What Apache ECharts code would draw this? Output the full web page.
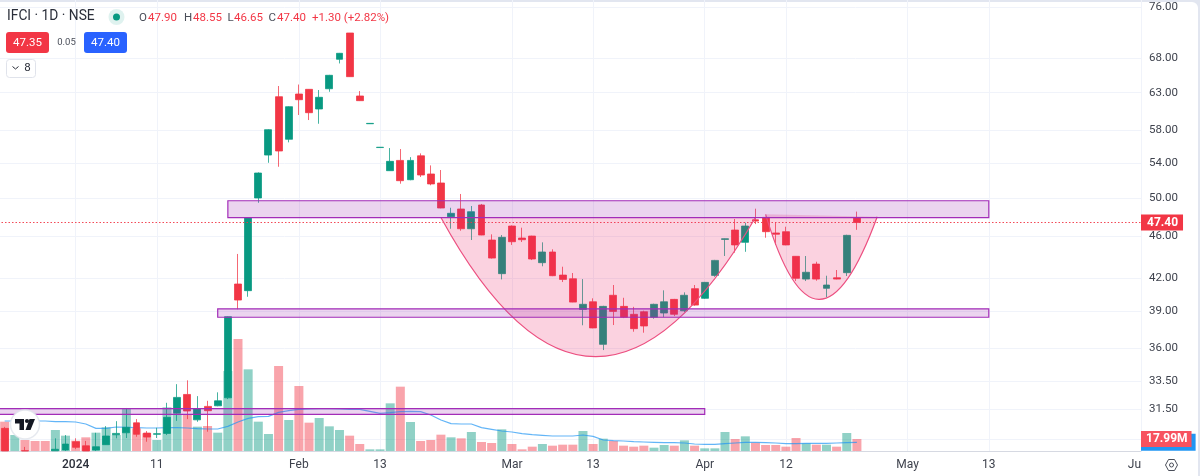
<!DOCTYPE html>
<html>
<head>
<meta charset="utf-8">
<style>
html,body{margin:0;padding:0;width:1200px;height:476px;overflow:hidden;background:#e2e6f0}
#paper{position:absolute;left:0;top:2px;width:1198px;height:474px;background:#fff;border-top-right-radius:6px}
#chart{position:absolute;left:0;top:0;width:1200px;height:476px}
</style>
<script src="https://cdn.jsdelivr.net/npm/echarts@6/dist/echarts.min.js"></script>
</head>
<body>
<div id="paper"></div>
<div id="chart"></div>
<script>
// Session slots: the first candle below sits in slot index 1; the axis has 114 slots.
const slotCount = 114;
const firstCandleSlot = 1;
const timeLabels = {8:'2024',16:'11',30:'Feb',38:'13',51:'Mar',59:'13',70:'Apr',78:'12',90:'May',98:'13',113:'Ju'};
const priceTicks = [76,68,63,58,54,50,46,42,39,36,33.5,31.5,29.5];

const opens = [30.2,null,28.76,null,null,28.75,28.8,29.33,29.07,28.8,
 29.14,29.78,29.91,30.57,29.89,29.81,29.87,31.21,32.53,30.77,
 31.69,31.73,32.29,41.43,40.83,50.02,54.95,62.44,56.88,62.81,
 63.46,60.78,63.54,67.77,71.79,62.54,58.85,55.86,53.1,54.31,
 52.06,54.86,52.72,51.69,48.01,48.83,46.76,49.26,45.62,42.38,
 47.04,45.82,46.02,43.41,44.44,42.25,41.91,39.19,39.85,36.3,
 40.42,39.45,38.77,38.99,38.52,38.88,40.06,39.07,41.01,40.15,
 42.22,45.68,46.63,45.39,47.69,47.94,46.33,46.46,44.02,41.88,
 43.28,41.04,42.0,42.47,47.9];
const closes = [28.74,null,28.74,null,null,28.85,29.18,28.97,28.74,29.01,
 29.7,29.87,30.27,29.81,29.63,29.85,30.94,32.32,31.37,31.53,
 31.39,32.08,38.57,40.0,47.87,52.83,58.09,55.44,61.09,62.03,
 60.29,62.36,65.44,68.67,65.24,61.9,58.9,55.9,54.2,51.95,
 54.31,52.6,51.58,48.93,48.37,46.76,48.54,46.12,43.85,45.89,
 45.45,45.65,43.76,44.44,42.19,41.85,39.82,39.63,37.63,39.45,
 39.02,38.52,37.57,37.79,39.63,39.85,38.77,40.42,39.56,41.58,
 43.63,45.75,45.13,47.04,47.55,46.46,46.2,45.13,41.95,42.51,
 41.88,41.34,41.88,46.09,47.4];
const lows = [28.74,null,28.74,null,null,28.74,28.74,28.86,28.74,28.74,
 29.12,29.55,29.57,29.65,29.33,29.57,29.76,30.7,30.82,30.64,
 29.98,31.7,32.2,39.2,40.29,49.5,54.03,53.56,56.5,59.99,
 59.33,58.85,63.12,67.16,65.2,61.85,58.85,55.86,53.08,51.61,
 52.0,52.37,51.43,48.9,46.76,46.56,45.62,46.1,43.8,41.85,
 45.13,45.42,43.66,43.07,42.15,41.61,39.8,37.85,37.6,35.85,
 37.87,38.45,37.32,37.24,38.4,38.52,38.62,38.96,39.5,40.1,
 42.09,44.05,44.37,44.46,47.24,45.85,45.13,45.1,41.7,41.7,
 41.73,40.24,41.85,42.16,46.65];
const highs = [30.3,null,29.0,null,null,29.55,29.76,29.55,29.38,29.91,
 30.35,30.68,31.58,30.82,30.02,30.24,31.94,33.27,33.55,32.41,
 32.08,32.68,38.6,44.25,47.9,52.9,58.15,63.92,61.15,64.13,
 63.5,63.36,65.5,68.72,71.8,63.22,58.92,55.92,55.8,55.68,
 54.7,55.15,53.72,53.18,48.96,50.46,49.15,49.37,46.19,46.12,
 47.1,46.87,46.05,45.39,44.7,43.03,42.44,41.88,40.15,39.5,
 41.34,40.2,39.41,39.08,39.68,40.86,40.1,40.68,41.34,41.62,
 43.68,45.78,47.77,47.39,48.86,48.0,47.42,46.97,44.05,44.05,
 43.5,42.19,42.72,46.15,48.55];
// Volume in millions of shares, same slots as the candles
const volumes = [44,24,16.5,15,15,31.5,23,15.5,20.5,27.5,
 35.5,24,64,34,26.5,16.5,65.5,54,54,36.5,
 37.5,27.5,120,168,122.5,44,25.5,127.5,46.5,97.5,
 42.5,49.5,37,31.5,23,10.5,2.5,2.5,71.5,96.5,
 43.5,15,16.5,24.5,20.5,19,28.5,13.5,12,32.5,
 10.5,2.5,6.5,10.5,8,9.5,9.5,30,10.5,18.5,
 15,8,6.5,8,5,9,8,16,8,4,
 4,28.5,18,22,12.5,9,9,6.5,19.5,11.5,
 9.5,9.5,6.5,27,17.99];
// Bars whose colour differs from what the visible candle shows (hidden candles)
const volumeUpOverride = {1:true,3:false,4:false};
const volumeMA = [45,45,45,45,45,44,44,43.5,40.5,34,
 34,36,35.5,35,34.5,34.5,35,35,34.5,33.5,
 33,33,37,43.5,49,51.5,52,58,60.5,62.5,
 63,63.5,63.5,63,62.5,62.5,59.5,56.5,57.5,59,
 59.5,59,54,46.5,41,40.5,40.5,35,32.5,30,
 28.5,26,24.5,23.5,22.5,22.5,22.5,24,22,16.5,
 15.5,15,14,13.5,13,12.5,12.5,12,10.5,10,
 10,11,12,13,13,12.5,12,11,11,11.5,
 11.5,11.5,12,12.5,13];

// Drawn zones: slots and prices
const zones = [
 {from:23,to:98,top:49.72,bottom:47.92},
 {from:22,to:98,top:39.24,bottom:38.52},
 {from:0,to:70,top:31.53,bottom:31.14}
];
// Drawn arcs: start, control and end anchors
const arcs = [
 {startSlot:44,startPrice:47.92,ctrlSlot:59,ctrlPrice:26.05,endSlot:75,endPrice:47.92},
 {startSlot:76,startPrice:48.26,ctrlSlot:81,ctrlPrice:33.34,endSlot:87,endPrice:48.0}
];
const lastPrice = 47.40, lastVolume = 17.99, lastVolumeMA = 13;

const FONT = 'Roboto, sans-serif';
const categories = Array.from({length:slotCount},(_,i)=>timeLabels[i]||String(i));
const pad = v => { const a = new Array(firstCandleSlot).fill(null); return a.concat(v); };
const candleData = pad(opens.map((o,i)=> o==null ? '-' : [o,closes[i],lows[i],highs[i]])).map(v=>v==null?'-':v);
const volData = pad(volumes.map((v,i)=>{
  const up = (i in volumeUpOverride) ? volumeUpOverride[i] : closes[i]>=opens[i];
  return {value:v,itemStyle:{color:up?'rgba(8,153,129,0.45)':'rgba(242,54,69,0.45)'}};
})).map(v=>v==null?'-':v);
const maData = pad(volumeMA);
const tickShown = i => !!timeLabels[i];

const chart = echarts.init(document.getElementById('chart'),null,{renderer:'canvas'});

function txt(x,y,text,fill,size,align,weight){
  return {type:'text',silent:true,z:50,style:{x,y,text,fill,font:(weight||'normal')+' '+size+'px '+FONT,textAlign:align||'left',textVerticalAlign:'middle'}};
}
const RED='#f23645';
const graphics = [
  txt(7,17,'IFCI · 1D · NSE','#2a2e39',13.8),
  {type:'circle',silent:true,z:50,shape:{cx:116.5,cy:17,r:8},style:{fill:'rgba(8,153,129,0.13)'}},
  {type:'circle',silent:true,z:51,shape:{cx:116.5,cy:17,r:3.5},style:{fill:'#089981'}},
  txt(139,18,'O','#4a4e59',11.5), txt(148,18,'47.90',RED,11.5),
  txt(184,18,'H','#4a4e59',11.5), txt(193,18,'48.55',RED,11.5),
  txt(227.5,18,'L','#4a4e59',11.5), txt(234,18,'46.65',RED,11.5),
  txt(268.5,18,'C','#4a4e59',11.5), txt(277,18,'47.40',RED,11.5),
  txt(312,18,'+1.30 (+2.82%)',RED,11.5),
  {type:'rect',silent:true,z:50,shape:{x:6,y:32,width:43,height:21,r:3},style:{fill:RED}},
  txt(27.5,43,'47.35','#fff',11.5,'center'),
  txt(66.5,42.5,'0.05','#4a4e59',9.5,'center'),
  {type:'rect',silent:true,z:50,shape:{x:84,y:32,width:43,height:21,r:3},style:{fill:'#2962ff'}},
  txt(105.5,43,'47.40','#fff',11.5,'center'),
  {type:'rect',silent:true,z:50,shape:{x:6.5,y:59.5,width:29,height:18,r:3},style:{fill:'#fff',stroke:'#e0e3eb',lineWidth:1}},
  {type:'polyline',silent:true,z:51,shape:{points:[[12.5,66.5],[15.5,69],[18.5,66.5]]},style:{stroke:'#2a2e39',lineWidth:1,fill:null}},
  txt(27.5,68.5,'8','#2a2e39',11.5,'center'),
  // TradingView badge
  {type:'circle',silent:true,z:50,shape:{cx:25,cy:424.5,r:14.5},style:{fill:'#fff',stroke:'rgba(224,227,235,0.8)',lineWidth:1.5}},
  {type:'polygon',silent:true,z:51,shape:{points:[[15,419],[24,419],[24,430],[19.5,430],[19.5,423.5],[15,423.5]]},style:{fill:'#131722'}},
  {type:'circle',silent:true,z:51,shape:{cx:27,cy:421,r:2.1},style:{fill:'#131722'}},
  {type:'polygon',silent:true,z:51,shape:{points:[[29.5,419],[35,419],[30.5,430],[25.5,430]]},style:{fill:'#131722'}},
  // settings icon
  {type:'polygon',silent:true,z:50,shape:{points:[[1165.5,465],[1168.5,459.5],[1174.5,459.5],[1177.5,465],[1174.5,470.5],[1168.5,470.5]]},style:{fill:'#fff',stroke:'#4a4e59',lineWidth:1}},
  {type:'circle',silent:true,z:51,shape:{cx:1171.5,cy:465,r:2},style:{fill:'#fff',stroke:'#4a4e59',lineWidth:1}}
];

const option = {
  animation:false,
  backgroundColor:'transparent',
  graphic:{elements:graphics},
  grid:{left:-5.5,width:1146.5,top:0,height:451,containLabel:false,outerBoundsMode:'none',show:false},
  xAxis:{
    type:'category',data:categories,boundaryGap:false,
    axisLine:{show:true,lineStyle:{color:'#d6d9e2',width:1}},
    axisTick:{show:false},
    axisLabel:{show:true,interval:(i)=>tickShown(i),
      formatter:(v)=>{
        if(v==='2024') return '{year|2024}';
        return (/^\d+$/.test(v)&&!Object.values(timeLabels).includes(v))?'':v;
      },
      rich:{year:{fontFamily:FONT,fontSize:12,fontWeight:500,color:'#2a2e39'}},
      color:'#3e424d',fontFamily:FONT,fontSize:12,margin:8,alignMaxLabel:'right',hideOverlap:false},
    splitLine:{show:true,interval:(i)=>tickShown(i),lineStyle:{color:'#f0f3fa',width:1}}
  },
  yAxis:[
    {type:'log',logBase:10,position:'right',min:28.74,max:77.17,
     axisLine:{show:false},
     axisTick:{show:false,customValues:priceTicks},
     axisLabel:{customValues:priceTicks,formatter:(v)=>Number(v).toFixed(2),color:'#3e424d',fontFamily:FONT,fontSize:11.5,margin:8,showMinLabel:true,showMaxLabel:true},
     splitLine:{show:true,lineStyle:{color:'#f0f3fa',width:1}}},
    {type:'value',min:0,max:676.5,show:false,splitLine:{show:false}}
  ],
  series:[
    {type:'bar',name:'Volume',yAxisIndex:1,data:volData,barWidth:9,z:2,
     markLine:{silent:true,symbol:'none',z:7,data:[{yAxis:lastVolume}],lineStyle:{color:'transparent',width:0},
       label:{show:true,opacity:1,position:'end',distance:0,formatter:'17.99M',color:'#fff',fontFamily:FONT,fontSize:12,fontWeight:'bold',backgroundColor:'#f7525f',padding:[2,4,2,5]}}},
    {type:'line',name:'Volume MA',yAxisIndex:1,data:maData,symbol:'none',connectNulls:true,z:3,
     lineStyle:{color:'#2196f3',width:1.2,opacity:0.7},
     markLine:{silent:true,symbol:'none',z:6,data:[{yAxis:lastVolumeMA}],lineStyle:{color:'transparent',width:0},
       label:{show:true,opacity:1,position:'end',distance:0,formatter:'12.94M',color:'#2196f3',fontFamily:FONT,fontSize:12,backgroundColor:'#2196f3',padding:[3,6,2,8]}}},
    {type:'candlestick',name:'IFCI',data:candleData,barWidth:7.4,z:4,
     itemStyle:{color:'#089981',color0:RED,borderColor:'rgba(8,153,129,0.75)',borderColor0:'rgba(242,54,69,0.75)',borderWidth:1},
     markLine:{silent:true,symbol:'none',z:5,data:[{yAxis:lastPrice}],
       lineStyle:{color:RED,type:[1.5,2],width:1.2,opacity:0.9},
       label:{show:true,opacity:1,position:'end',distance:0,formatter:'47.40',color:'#fff',fontFamily:FONT,fontSize:12,fontWeight:'bold',backgroundColor:RED,padding:[2,5,2,6]}}},
    {type:'custom',name:'Arcs',z:8,clip:true,data:arcs.map(a=>[a.startSlot,a.startPrice]),
     renderItem:(params,api)=>{
       const a=arcs[params.dataIndex];
       const s=api.coord([a.startSlot,a.startPrice]),c=api.coord([a.ctrlSlot,a.ctrlPrice]),e=api.coord([a.endSlot,a.endPrice]);
       return {type:'bezierCurve',shape:{x1:s[0],y1:s[1],x2:e[0],y2:e[1],cpx1:c[0],cpy1:c[1]},
         style:{fill:'rgba(233,30,99,0.2)',stroke:'#ec4f80',lineWidth:1.2}};
     }},
    {type:'custom',name:'Zones',z:9,clip:true,data:zones.map(b=>[b.from,b.top]),
     renderItem:(params,api)=>{
       const b=zones[params.dataIndex];
       const p1=api.coord([b.from,b.top]),p2=api.coord([b.to,b.bottom]);
       return {type:'rect',shape:{x:p1[0],y:p1[1],width:p2[0]-p1[0],height:p2[1]-p1[1]},
         style:{fill:'rgba(156,39,176,0.2)',stroke:'#a32cb8',lineWidth:1.2}};
     }}
  ]
};
chart.setOption(option);
</script>
</body>
</html>
